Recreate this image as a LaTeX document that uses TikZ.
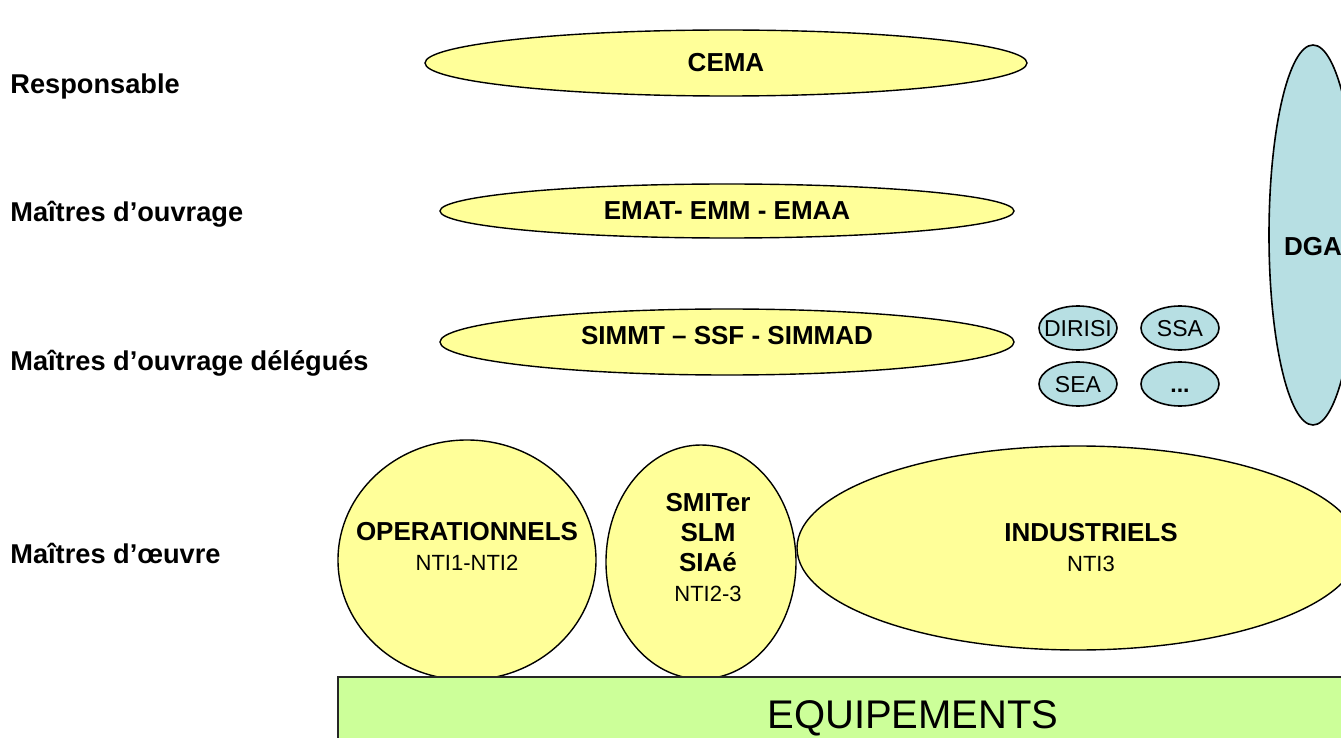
\documentclass[tikz,border=0pt]{standalone}
\usepackage{fontspec}
\setmainfont{Liberation Sans}
\usetikzlibrary{shapes.geometric}
\definecolor{paleyellow}{HTML}{FFFF99}
\definecolor{paleblue}{HTML}{B7DFE3}
\definecolor{palegreen}{HTML}{CCFF99}

\begin{document}
\begin{tikzpicture}[x=0.5pt,y=-0.5pt,font=\fontsize{13}{15}\selectfont,
  yell/.style={draw,ellipse,fill=paleyellow,inner sep=0pt,line width=0.7pt},
  blueell/.style={draw,ellipse,fill=paleblue,inner sep=0pt,line width=0.8pt},
  smallell/.style={blueell,minimum width=39pt,minimum height=22pt,
    label={[font=\fontsize{11.5}{14}\selectfont,text height=8.2pt,text depth=0pt]center:#1}},
  level/.style={anchor=base west,inner sep=0pt,font=\fontsize{13.6}{16}\selectfont\bfseries}]
\useasboundingbox (0,0) rectangle (1341,738);
\clip (0,0) rectangle (1341,738);

% levels
\node[level] (resp) at (10,94) {Responsable};
\node[level] (moa) at (10,222) {Maîtres d’ouvrage};
\node[level] (moad) at (10,371) {Maîtres d’ouvrage délégués};
\node[level] (moe) at (10,563) {Maîtres d’œuvre};

% upper ellipses
\node[yell,minimum width=301pt,minimum height=33pt] (cema) at (726,63) {\bfseries CEMA};
\node[yell,minimum width=287pt,minimum height=27pt] (emat) at (727,211) {\bfseries EMAT- EMM - EMAA};
\node[yell,minimum width=287pt,minimum height=33pt,
  label={[yshift=3pt]center:\bfseries SIMMT – SSF - SIMMAD}] (simmt) at (727,342) {};

% services
\node[smallell=DIRISI] (dirisi) at (1078,328) {};
\node[smallell=SSA] (ssa) at (1180,328) {};
\node[smallell=SEA] (sea) at (1078,384) {};
\node[smallell=\textbf{...}] (etc) at (1180,384) {};
\node[blueell,minimum width=44pt,minimum height=190pt,
  label={[yshift=-6pt]center:\bfseries DGA}] (dga) at (1313,235) {};

% maitres d'oeuvre
\node[yell,minimum width=129pt,minimum height=120pt,
  label={[align=center,yshift=7pt]center:{\bfseries OPERATIONNELS}\\{\fontsize{11}{15}\selectfont NTI1-NTI2}}] (oper) at (467,560) {};
\node[yell,minimum width=95pt,minimum height=117pt,
  label={[align=center,xshift=3.5pt,yshift=7pt]center:{\bfseries SMITer}\\{\bfseries SLM}\\{\bfseries SIAé}\\{\fontsize{11}{15}\selectfont NTI2-3}}] (smit) at (701,562) {};
\node[yell,minimum width=281pt,minimum height=102pt,
  label={[align=center,xshift=6.5pt]center:{\bfseries INDUSTRIELS}\\{\fontsize{11}{15}\selectfont NTI3}}] (indus) at (1078,548) {};

% equipements
\node[draw=black!85,line width=1pt,fill=palegreen,minimum width=575pt,minimum height=41pt,
  font=\fontsize{20}{24}\selectfont] (equip) at (913,718) {EQUIPEMENTS};
\end{tikzpicture}
\end{document}
